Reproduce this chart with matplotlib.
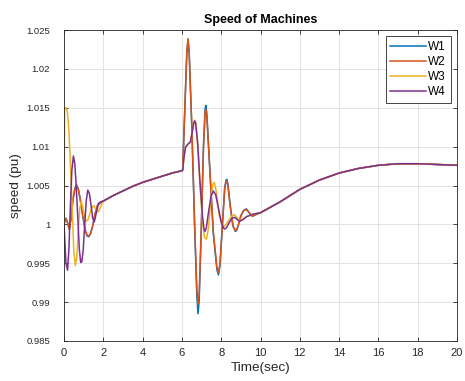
import numpy as np
import matplotlib.pyplot as plt

plt.rcParams['font.family'] = ['Liberation Sans', 'DejaVu Sans']

# shared slow trend (all machines lie on top of each other here)
pre_t = [2.0, 2.5, 3.0, 3.5, 4.0, 4.5, 5.0, 5.5, 6.0]
pre_y = [1.0030, 1.0037, 1.0043, 1.0049, 1.0054, 1.0058, 1.0062, 1.0066, 1.0069]
post_t = [10.0, 11.0, 12.0, 13.0, 14.0, 15.0, 16.0, 17.0, 18.0, 19.0, 20.0]
post_y = [1.0015, 1.0029, 1.0045, 1.0057, 1.0066, 1.0072, 1.0076, 1.0078, 1.0078, 1.0077, 1.0076]

# start-up transient, t = 0..2 s
w1_a_t = [0.00, 0.05, 0.10, 0.17, 0.27, 0.36, 0.45, 0.55, 0.64, 0.73, 0.82, 0.95,
          1.08, 1.18, 1.26, 1.35, 1.45, 1.58, 1.70, 1.85]
w1_a_y = [1.0000, 1.0005, 1.0008, 1.0003, 0.9994, 1.0008, 1.0031, 1.0046, 1.0051, 1.0045, 1.0033, 1.0012,
          0.9992, 0.9985, 0.9984, 0.9988, 0.9997, 1.0013, 1.0024, 1.0028]
w2_a_t = [0.00, 0.05, 0.10, 0.17, 0.27, 0.36, 0.45, 0.55, 0.64, 0.73, 0.82, 0.95,
          1.08, 1.18, 1.26, 1.35, 1.45, 1.58, 1.70, 1.85]
w2_a_y = [1.0000, 1.0005, 1.0007, 1.0003, 0.9994, 1.0008, 1.0030, 1.0045, 1.0050, 1.0045, 1.0033, 1.0012,
          0.9993, 0.9986, 0.9985, 0.9988, 0.9997, 1.0013, 1.0024, 1.0028]
w3_a_t = [0.00, 0.03, 0.10, 0.17, 0.25, 0.33, 0.42, 0.50, 0.58, 0.65, 0.72, 0.80, 0.87,
          0.94, 1.02, 1.12, 1.22, 1.32, 1.42, 1.52, 1.62, 1.75]
w3_a_y = [1.0000, 1.0150, 1.0150, 1.0145, 1.0120, 1.0075, 1.0020, 0.9965, 0.9947, 0.9958, 0.9990, 1.0020, 1.0029,
          1.0024, 1.0012, 1.0004, 1.0006, 1.0014, 1.0022, 1.0024, 1.0019, 1.0016]
w4_a_t = [0.00, 0.05, 0.10, 0.18, 0.25, 0.32, 0.40, 0.48, 0.55, 0.62, 0.70, 0.78, 0.85,
          0.91, 0.98, 1.05, 1.13, 1.21, 1.29, 1.38, 1.46, 1.54, 1.63, 1.75, 1.88]
w4_a_y = [1.0000, 0.9975, 0.9950, 0.9941, 0.9968, 1.0020, 1.0070, 1.0088, 1.0078, 1.0050, 1.0010, 0.9968, 0.9951,
          0.9952, 0.9968, 0.9998, 1.0030, 1.0044, 1.0040, 1.0024, 1.0008, 1.0003, 1.0013, 1.0027, 1.0029]

# disturbance at t = 6 s
w2_b_t = [6.04, 6.15, 6.25, 6.31, 6.37, 6.50, 6.65, 6.76, 6.82, 6.88, 6.98, 7.10, 7.18, 7.22, 7.27,
          7.40, 7.60, 7.78, 7.86, 7.94, 8.05, 8.18, 8.25, 8.29, 8.34, 8.45, 8.60, 8.72, 8.78, 8.86,
          9.00, 9.15, 9.28, 9.42, 9.55, 9.64, 9.80]
w2_b_y = [1.0070, 1.0150, 1.0222, 1.0239, 1.0222, 1.0130, 1.0000, 0.9918, 0.9897, 0.9912, 0.9990, 1.0100, 1.0143, 1.0148, 1.0138,
          1.0080, 0.9990, 0.9945, 0.9938, 0.9950, 0.9995, 1.0046, 1.0055, 1.0056, 1.0050, 1.0025, 0.9998, 0.9992, 0.9993, 0.9998,
          1.0011, 1.0018, 1.0019, 1.0015, 1.0011, 1.0011, 1.0013]
w1_b_t = w2_b_t
w1_b_y = [1.0070, 1.0150, 1.0220, 1.0237, 1.0220, 1.0128, 0.9995, 0.9908, 0.9885, 0.9902, 0.9988, 1.0102, 1.0148, 1.0153, 1.0142,
          1.0080, 0.9988, 0.9942, 0.9935, 0.9948, 0.9995, 1.0048, 1.0057, 1.0058, 1.0052, 1.0026, 0.9998, 0.9991, 0.9992, 0.9998,
          1.0011, 1.0018, 1.0020, 1.0015, 1.0011, 1.0011, 1.0013]
w3_b_t = [6.04, 6.10, 6.18, 6.30, 6.43, 6.52, 6.60, 6.65, 6.70, 6.80, 6.92, 7.05, 7.15, 7.25, 7.35,
          7.48, 7.58, 7.65, 7.75, 7.90, 8.05, 8.15, 8.30, 8.45, 8.60, 8.70, 8.85, 9.00, 9.30, 9.60]
w3_b_y = [1.0070, 1.0085, 1.0099, 1.0103, 1.0106, 1.0118, 1.0130, 1.0134, 1.0131, 1.0105, 1.0050, 1.0003, 0.9983, 0.9981, 0.9995,
          1.0035, 1.0052, 1.0054, 1.0042, 1.0012, 0.9999, 0.9997, 1.0002, 1.0008, 1.0012, 1.0012, 1.0007, 1.0005, 1.0010, 1.0013]
w4_b_t = [6.04, 6.10, 6.18, 6.30, 6.43, 6.52, 6.60, 6.65, 6.70, 6.80, 6.92, 7.05, 7.12, 7.17, 7.24,
          7.35, 7.48, 7.60, 7.72, 7.85, 8.00, 8.12, 8.19, 8.28, 8.40, 8.55, 8.69, 8.82, 8.94, 9.10, 9.30, 9.60]
w4_b_y = [1.0070, 1.0085, 1.0099, 1.0103, 1.0106, 1.0118, 1.0130, 1.0133, 1.0130, 1.0105, 1.0055, 1.0010, 0.9995, 0.9991, 0.9995,
          1.0015, 1.0036, 1.0043, 1.0038, 1.0022, 1.0003, 0.9995, 0.9994, 0.9996, 1.0002, 1.0008, 1.0009, 1.0006, 1.0004, 1.0006, 1.0010, 1.0013]

names = ["W1", "W2", "W3", "W4"]
colors = ["#0072BD", "#D95319", "#EDB120", "#7E2F8E"]
parts = [(w1_a_t, w1_a_y, w1_b_t, w1_b_y),
         (w2_a_t, w2_a_y, w2_b_t, w2_b_y),
         (w3_a_t, w3_a_y, w3_b_t, w3_b_y),
         (w4_a_t, w4_a_y, w4_b_t, w4_b_y)]

fig = plt.figure(figsize=(4.65, 3.81), dpi=100)
ax = fig.add_axes([64/465, 1-341/381, (457-64)/465, (341-30)/381])

for name, c, (at, ay, bt, by) in zip(names, colors, parts):
    t = np.concatenate([at, pre_t, bt, post_t])
    y = np.concatenate([ay, pre_y, by, post_y])
    ax.plot(t, y, color=c, lw=1.1, label=name)

ax.set_xlim(0, 20)
ax.set_ylim(0.985, 1.025)
ax.set_xticks(np.arange(0, 21, 2))
ax.set_yticks([0.985, 0.99, 0.995, 1.0, 1.005, 1.01, 1.015, 1.02, 1.025])
ax.set_yticklabels(["0.985", "0.99", "0.995", "1", "1.005", "1.01", "1.015", "1.02", "1.025"])
ax.grid(True, color="#e3e3e3", lw=0.7)
ax.set_axisbelow(True)
ax.tick_params(direction="in", top=True, right=True, length=3, width=0.6,
               colors="#262626")
ax.tick_params(axis="x", labelsize=8, pad=5)
ax.tick_params(axis="y", labelsize=6.8, pad=10)
for s in ax.spines.values():
    s.set_color("#262626")
    s.set_linewidth(0.6)

ax.set_title("Speed of Machines", fontsize=9, fontweight="bold", pad=5)
ax.set_xlabel("Time(sec)", fontsize=9.7, color="#262626", labelpad=3)
ax.set_ylabel("speed (pu)", fontsize=9.7, color="#262626", labelpad=3)

leg = ax.legend(loc="upper right", fontsize=8.5, handlelength=3.0, handletextpad=0.2,
                borderpad=0.4, labelspacing=0.25, fancybox=False, framealpha=1,
                borderaxespad=0.55)
leg.get_frame().set_edgecolor("#262626")
leg.get_frame().set_linewidth(0.6)

fig.savefig("out.png", dpi=100)
